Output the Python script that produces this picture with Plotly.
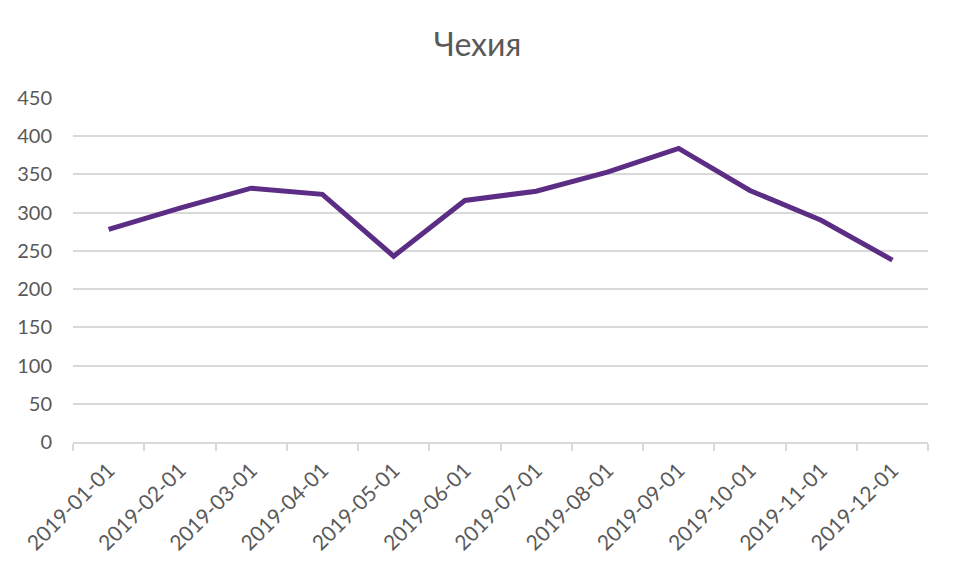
import plotly.graph_objects as go

months = ["2019-01-01", "2019-02-01", "2019-03-01", "2019-04-01", "2019-05-01", "2019-06-01",
          "2019-07-01", "2019-08-01", "2019-09-01", "2019-10-01", "2019-11-01", "2019-12-01"]
values = [278, 306, 332, 324, 243, 316, 328, 353, 384, 329, 290, 238]
y_ticks = [0, 50, 100, 150, 200, 250, 300, 350, 400, 450]

fig = go.Figure()
fig.add_trace(go.Scatter(
    x=months, y=values, mode="lines",
    line=dict(color="#5c2d84", width=5),
))

font_family = "Lato, 'Noto Sans', sans-serif"
fig.update_layout(
    width=955, height=572,
    margin=dict(l=73, r=27, t=98, b=130, autoexpand=False),
    paper_bgcolor="white", plot_bgcolor="white",
    title=dict(text="Чехия", x=0.5, xanchor="center", y=0.922, yanchor="middle",
               font=dict(family=font_family, size=32, color="#595959")),
    showlegend=False,
    font=dict(family=font_family, size=20, color="#595959"),
)
fig.update_xaxes(
    type="category", tickangle=-45, showgrid=False, automargin=False,
    range=[-0.5, len(months) - 0.5],
    showline=True, linecolor="#d9d9d9", linewidth=1.5,
    ticks="outside", tickson="boundaries", ticklen=7, tickcolor="#d9d9d9", tickwidth=1.5,
    ticklabelstandoff=6,
    tickfont=dict(size=21, color="#595959"),
)
fig.update_yaxes(
    range=[0, 450], tickvals=y_ticks, showgrid=True, gridcolor="#d9d9d9", gridwidth=1.5,
    zeroline=False, showline=False, ticks="", automargin=False,
    ticklabelstandoff=20,
    tickfont=dict(size=20, color="#595959"),
)
fig.write_html("out.html", post_script="document.body.style.margin='0';",
               config={"displayModeBar": False})
